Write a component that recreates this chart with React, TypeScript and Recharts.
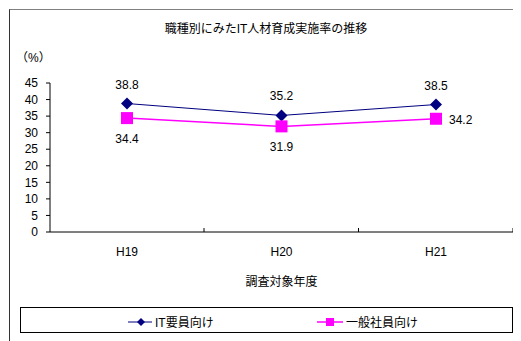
import { LineChart, Line, XAxis, YAxis, Legend, LabelList, Label } from 'recharts';

const years = ['H19', 'H20', 'H21'];
const itStaff = [38.8, 35.2, 38.5];
const generalStaff = [34.4, 31.9, 34.2];
const yTicks = [0, 5, 10, 15, 20, 25, 30, 35, 40, 45];

const IT_NAME = 'IT要員向け';
const GEN_NAME = '一般社員向け';
const IT_COLOR = '#000080';
const GEN_COLOR = '#ff00ff';
const FONT = '"Liberation Sans", "Noto Sans CJK JP", sans-serif';
const HALF_BAND = 77;

const data = years.map((y, i) => ({ year: y, it: itStaff[i], gen: generalStaff[i] }));

const Diamond = ({ cx, cy }: any) => (
  <path d={`M${cx},${cy - 6}L${cx + 6},${cy}L${cx},${cy + 6}L${cx - 6},${cy}Z`} fill={IT_COLOR} />
);

const Square = ({ cx, cy }: any) => (
  <rect x={cx - 6} y={cy - 6} width={12} height={12} fill={GEN_COLOR} />
);

const XTick = ({ x, y, payload }: any) => (
  <g>
    <line x1={x + HALF_BAND} y1={y} x2={x + HALF_BAND} y2={y - 4} stroke="#000" />
    <text x={x} y={y + 24} textAnchor="middle" fontSize={12} fill="#000">{payload.value}</text>
  </g>
);

const itLabel = ({ x, y, value }: any) => (
  <text x={x} y={y - 15} textAnchor="middle" fontSize={12} fill="#000">{value}</text>
);

const genLabel = ({ x, y, value, index }: any) =>
  index === years.length - 1 ? (
    <text x={x + 13} y={y + 5} textAnchor="start" fontSize={12} fill="#000">{value}</text>
  ) : (
    <text x={x} y={y + 25} textAnchor="middle" fontSize={12} fill="#000">{value}</text>
  );

const LegendBox = () => (
  <div style={{ position: 'relative', height: 24, fontSize: 12, fontFamily: FONT }}>
    <div style={{ position: 'absolute', left: 107, top: 5, display: 'flex', alignItems: 'center' }}>
      <svg width={24} height={12}>
        <line x1={0} y1={6} x2={24} y2={6} stroke={IT_COLOR} />
        <path d="M13,2L17,6L13,10L9,6Z" fill={IT_COLOR} />
      </svg>
      <span style={{ marginLeft: 3 }}>{IT_NAME}</span>
    </div>
    <div style={{ position: 'absolute', left: 296, top: 5, display: 'flex', alignItems: 'center' }}>
      <svg width={26} height={12}>
        <line x1={0} y1={6} x2={26} y2={6} stroke={GEN_COLOR} strokeWidth={1.5} />
        <rect x={9} y={2} width={8} height={8} fill={GEN_COLOR} />
      </svg>
      <span style={{ marginLeft: 3 }}>{GEN_NAME}</span>
    </div>
  </div>
);

export default function App() {
  return (
    <div style={{ position: 'relative', width: 513, height: 333, fontFamily: FONT }}>
      <div
        style={{
          position: 'absolute', left: 1, top: 1, width: 520, height: 340,
          borderTop: '1px solid #808080', borderLeft: '1px solid #333',
        }}
      />
      <div
        style={{
          position: 'absolute', left: 0, width: 516, top: 11, textAlign: 'center',
          fontSize: 12, color: '#000',
        }}
      >
        職種別にみたIT人材育成実施率の推移
      </div>
      <div style={{ position: 'absolute', left: 8, top: 40, fontSize: 12, color: '#000' }}>（%）</div>
      <LineChart
        width={513}
        height={333}
        data={data}
        margin={{ top: 75, right: 8, left: 0, bottom: 25 }}
        style={{ fontFamily: FONT }}
      >
        <XAxis
          dataKey="year"
          height={58}
          padding={{ left: HALF_BAND, right: HALF_BAND }}
          tickLine={false}
          tickSize={0}
          tickMargin={0}
          axisLine={{ stroke: '#000' }}
          tick={<XTick />}
        >
          <Label value="調査対象年度" position="insideBottom" offset={4} fontSize={12} fill="#000" />
        </XAxis>
        <YAxis
          width={42}
          domain={[0, 45]}
          ticks={yTicks}
          interval={0}
          tickSize={4}
          tickMargin={8}
          axisLine={{ stroke: '#000' }}
          tickLine={{ stroke: '#000' }}
          tick={{ fontSize: 12, fill: '#000' }}
        />
        <Legend
          verticalAlign="bottom"
          content={<LegendBox />}
          wrapperStyle={{
            left: 12, top: 299, bottom: 'auto', width: 493, height: 26,
            border: '1px solid #000', boxSizing: 'border-box',
          }}
        />
        <Line
          dataKey="it"
          name={IT_NAME}
          stroke={IT_COLOR}
          strokeWidth={1}
          dot={<Diamond />}
          activeDot={false}
          isAnimationActive={false}
        >
          <LabelList dataKey="it" content={itLabel} />
        </Line>
        <Line
          dataKey="gen"
          name={GEN_NAME}
          stroke={GEN_COLOR}
          strokeWidth={1.5}
          dot={<Square />}
          activeDot={false}
          isAnimationActive={false}
        >
          <LabelList dataKey="gen" content={genLabel} />
        </Line>
      </LineChart>
    </div>
  );
}
